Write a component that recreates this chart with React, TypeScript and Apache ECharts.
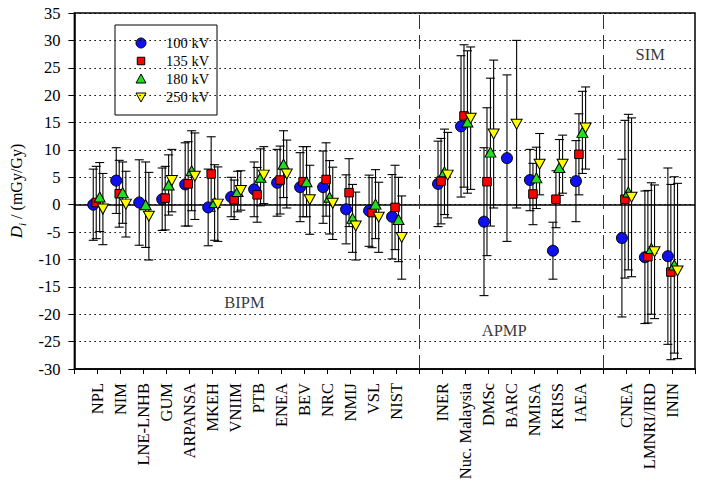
import React, { useEffect, useRef } from "react";
import * as echarts from "echarts";

const FONT = '"Liberation Serif", "Times New Roman", Times, serif';

// Laboratories, grouped by RMO
const bipmLabs = ["NPL", "NIM", "LNE-LNHB", "GUM", "ARPANSA", "MKEH", "VNIIM", "PTB", "ENEA", "BEV", "NRC", "NMIJ", "VSL", "NIST"];
const apmpLabs = ["INER", "Nuc. Malaysia", "DMSc", "BARC", "NMISA", "KRISS", "IAEA"];
const simLabs = ["CNEA", "LMNRI/IRD", "ININ"];

// Degrees of equivalence D_i (mGy/Gy) and expanded uncertainties, in the order bipm, apmp, sim
const d100 = [0.0, 4.4, 0.4, 1.0, 3.7, -0.5, 1.4, 2.8, 4.0, 3.2, 3.2, -0.85, -1.1, -2.2, 3.8, 14.3, -3.1, 8.5, 4.5, -8.4, 4.3, -6.1, -9.6, -9.4];
const u100 = [6.5, 6.0, 7.8, 5.7, 7.6, 7.0, 3.6, 5.0, 6.1, 6.3, 6.6, 6.3, 6.5, 7.7, 7.8, 12.9, 13.5, 15.2, 5.6, 5.2, 7.4, 14.4, 12.1, 16.1];
const d135 = [0.4, 2.0, null, 1.2, 3.8, 5.6, 0.9, 1.8, 4.5, 4.2, 4.6, 2.2, -1.45, -0.5, 4.3, 16.2, 4.2, null, 1.95, 1.0, 9.2, 1.0, -9.5, -12.3];
const u135 = [6.6, 6.1, null, 5.8, 7.7, 6.8, 3.6, 5.0, 6.2, 6.4, 6.7, 6.2, 6.4, 7.7, 7.8, 13.0, 13.5, null, 5.6, 5.2, 7.4, 14.4, 12.1, 16.0];
const d180 = [1.4, 2.2, 0.0, 3.6, 6.2, 0.4, 2.4, 5.0, 7.4, 4.2, 1.35, -2.5, 0.1, -2.7, 6.0, 15.1, 9.6, null, 4.9, 6.8, 13.2, 2.3, -8.0, -11.0];
const u180 = [6.3, 5.6, 7.8, 5.5, 7.3, 6.9, 3.7, 5.2, 6.1, 6.4, 6.7, 6.2, 6.3, 7.7, 7.8, 13.0, 13.5, null, 5.6, 5.1, 7.5, 14.2, 12.0, 16.1];
const d250 = [-0.8, 0.1, -2.1, 4.4, 5.2, 0.1, 2.6, 5.4, 5.6, 0.9, 0.25, -3.9, -2.3, -6.0, 5.4, 15.8, 12.9, 14.7, 7.4, 7.4, 14.0, 1.35, -8.6, -12.1];
const u250 = [6.5, 6.0, 8.0, 5.7, 7.9, 6.8, 3.6, 5.2, 6.2, 6.3, 6.6, 6.2, 6.4, 7.6, 7.8, 13.0, 13.5, 15.3, 5.6, 5.3, 7.5, 14.5, 12.2, 16.0];

const yTicks = { min: -30, max: 35, step: 5 };
const groupLabels = [
  { text: "BIPM", x: 7.4, y: -17.8 },
  { text: "APMP", x: 18.7, y: -22.9 },
  { text: "SIM", x: 25.05, y: 27.4 },
];

const INV_TRI = "path://M0,0L10,0L5,9Z";

const energies = [
  { name: "100 kV", d: d100, u: u100, symbol: "circle", size: 11, color: "#1010ee", offset: -0.18 },
  { name: "135 kV", d: d135, u: u135, symbol: "rect", size: 8.5, color: "#ff0000", offset: -0.05 },
  { name: "180 kV", d: d180, u: u180, symbol: "triangle", size: [11, 10], color: "#22dd22", offset: 0.1 },
  { name: "250 kV", d: d250, u: u250, symbol: INV_TRI, size: [11, 10], color: "#ffff00", offset: 0.24 },
];

export default function App() {
  const ref = useRef<HTMLDivElement>(null);

  useEffect(() => {
    if (!ref.current) return;
    const chart = echarts.init(ref.current, null, { renderer: "svg" });

    // positions on the x axis: groups separated by an empty slot
    const positions: number[] = [];
    bipmLabs.forEach((_, i) => positions.push(1 + i));
    const sep1 = bipmLabs.length + 1;
    apmpLabs.forEach((_, i) => positions.push(sep1 + 1 + i));
    const sep2 = sep1 + apmpLabs.length + 1;
    simLabs.forEach((_, i) => positions.push(sep2 + 1 + i));
    const xMax = sep2 + simLabs.length + 1;
    const labs = [...bipmLabs, ...apmpLabs, ...simLabs];
    const nameAt: Record<number, string> = {};
    positions.forEach((p, i) => (nameAt[p] = labs[i]));

    const series: any[] = [];
    energies.forEach((e) => {
      const bars: number[][] = [];
      const pts: number[][] = [];
      e.d.forEach((v, i) => {
        if (v === null || v === undefined) return;
        const u = e.u[i] as number;
        const x = positions[i] + e.offset;
        bars.push([x, v - u, v + u]);
        pts.push([x, v]);
      });
      series.push({
        type: "custom",
        silent: true,
        z: 2,
        data: bars,
        encode: { x: 0, y: [1, 2] },
        renderItem: (_p: any, api: any) => {
          const x = api.value(0);
          const lo = api.coord([x, api.value(1)]);
          const hi = api.coord([x, api.value(2)]);
          const w = 4.5;
          const st = { stroke: "#000", lineWidth: 1.1 };
          return {
            type: "group",
            children: [
              { type: "line", shape: { x1: lo[0], y1: lo[1], x2: hi[0], y2: hi[1] }, style: st },
              { type: "line", shape: { x1: lo[0] - w, y1: lo[1], x2: lo[0] + w, y2: lo[1] }, style: st },
              { type: "line", shape: { x1: hi[0] - w, y1: hi[1], x2: hi[0] + w, y2: hi[1] }, style: st },
            ],
          };
        },
      });
      series.push({
        type: "scatter",
        name: e.name,
        z: 5,
        symbol: e.symbol,
        symbolSize: e.size,
        data: pts,
        itemStyle: { color: e.color, borderColor: "#000", borderWidth: 1, opacity: 1 },
      });
    });

    // zero line, RMO separators and group names
    series.push({
      type: "scatter",
      silent: true,
      z: 1,
      symbolSize: 0,
      data: groupLabels.map((g) => ({ value: [g.x, g.y], name: g.text })),
      label: {
        show: true,
        position: "inside",
        formatter: (p: any) => p.name,
        fontFamily: FONT,
        fontSize: 16.5,
        color: "#000",
      },
      markLine: {
        silent: true,
        symbol: "none",
        label: { show: false },
        animation: false,
        data: [
          { yAxis: 0, lineStyle: { color: "#000", width: 1.5, type: "solid" } },
          { xAxis: sep1, lineStyle: { color: "#333", width: 1, type: [14, 6] } },
          { xAxis: sep2, lineStyle: { color: "#333", width: 1, type: [14, 6] } },
        ],
      },
    });

    // legend box
    const lx = 115, ly = 25, lw = 102, lh = 90;
    const legendChildren: any[] = [
      { type: "rect", shape: { x: lx, y: ly, width: lw, height: lh }, style: { fill: "#fff", stroke: "#000", lineWidth: 1 } },
    ];
    energies.forEach((e, i) => {
      const cx = 141, cy = 43 + i * 18;
      const style = { fill: e.color, stroke: "#000", lineWidth: 1 };
      if (i === 0) legendChildren.push({ type: "circle", shape: { cx, cy, r: 5 }, style });
      if (i === 1) legendChildren.push({ type: "rect", shape: { x: cx - 3.75, y: cy - 3.75, width: 7.5, height: 7.5 }, style });
      if (i === 2) legendChildren.push({ type: "polygon", shape: { points: [[cx - 5, cy + 4], [cx + 5, cy + 4], [cx, cy - 5]] }, style });
      if (i === 3) legendChildren.push({ type: "polygon", shape: { points: [[cx - 5, cy - 4], [cx + 5, cy - 4], [cx, cy + 5]] }, style });
      legendChildren.push({
        type: "text",
        x: 166,
        y: cy,
        style: { text: e.name, fontFamily: FONT, fontSize: 14.5, fill: "#000", verticalAlign: "middle", align: "left" },
      });
    });

    chart.setOption({
      animation: false,
      backgroundColor: "#fff",
      grid: { left: 64, right: 9, top: 13, bottom: 122, show: true, borderColor: "#000", borderWidth: 1.5, backgroundColor: "transparent" },
      xAxis: {
        type: "value",
        min: 0,
        max: xMax,
        interval: 1,
        axisLine: { onZero: false, lineStyle: { color: "#000", width: 1.5 } },
        axisTick: { show: true, length: 5, lineStyle: { color: "#000", width: 1 } },
        splitLine: { show: false },
        axisLabel: {
          rotate: 90,
          margin: 14,
          fontFamily: FONT,
          fontSize: 16.5,
          color: "#000",
          showMinLabel: true,
          showMaxLabel: true,
          formatter: (v: number) => nameAt[Math.round(v)] ?? "",
        },
      },
      yAxis: {
        type: "value",
        min: yTicks.min,
        max: yTicks.max,
        interval: yTicks.step,
        axisLine: { show: true, lineStyle: { color: "#000", width: 1.5 } },
        axisTick: { show: true, length: 6, lineStyle: { color: "#000", width: 1 } },
        splitLine: { show: true, lineStyle: { color: "#000", width: 1.2, type: [1.5, 3.5] } },
        axisLabel: { margin: 14, fontFamily: FONT, fontSize: 16.5, color: "#000" },
        name: "{d|D}{i|i}{r| / (mGy/Gy)}",
        nameLocation: "middle",
        nameRotate: 90,
        nameGap: 40,
        nameTextStyle: {
          fontFamily: FONT,
          fontSize: 16,
          color: "#000",
          rich: {
            d: { fontFamily: FONT, fontSize: 17, fontStyle: "italic", color: "#000", lineHeight: 22 },
            i: { fontFamily: FONT, fontSize: 11, fontStyle: "italic", color: "#000", verticalAlign: "bottom", lineHeight: 14 },
            r: { fontFamily: FONT, fontSize: 16, color: "#000", lineHeight: 22 },
          },
        },
      },
      graphic: [{ type: "group", z: 100, children: legendChildren }],
      series,
    });

    return () => chart.dispose();
  }, []);

  return <div ref={ref} style={{ position: "absolute", left: 0, top: 0, width: 704, height: 491 }} />;
}
